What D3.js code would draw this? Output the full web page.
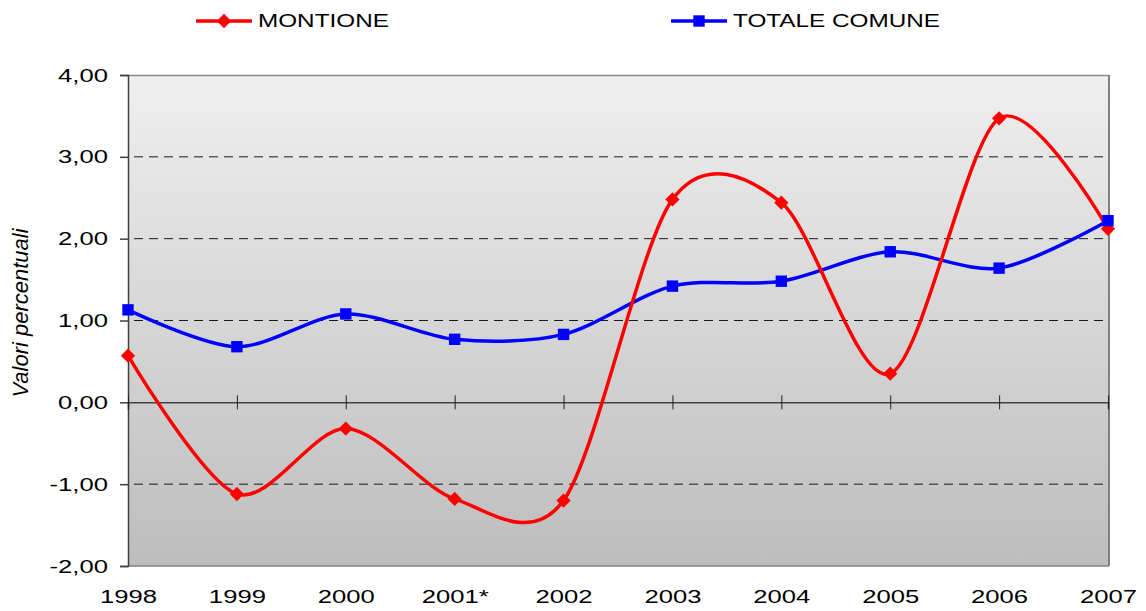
<!DOCTYPE html>
<html>
<head>
<meta charset="utf-8">
<script src="https://cdn.jsdelivr.net/npm/d3@7"></script>
<style>
  body { margin: 0; background: #ffffff; }
  svg text { font-family: "Liberation Sans", Arial, sans-serif; fill: #000; }
  .stretch { transform-box: fill-box; }
</style>
</head>
<body>
<svg id="chart" width="1146" height="611"></svg>
<script>
// Categories and series values
const years = ['1998', '1999', '2000', '2001*', '2002', '2003', '2004', '2005', '2006', '2007'];
const montione = [0.57, -1.12, -0.32, -1.18, -1.2, 2.48, 2.44, 0.35, 3.47, 2.12];
const totaleComune = [1.13, 0.68, 1.08, 0.77, 0.83, 1.42, 1.48, 1.84, 1.64, 2.22];
const yTicks = [-2, -1, 0, 1, 2, 3, 4];
const seriesNames = ['MONTIONE', 'TOTALE COMUNE'];

const svg = d3.select('#chart');
const margin = { top: 75, right: 37, bottom: 45, left: 128 };
const width = 1146 - margin.left - margin.right;
const height = 611 - margin.top - margin.bottom;
const stretchX = 1.35; // the picture's text is wider than it is tall

const x = d3.scalePoint().domain(years).range([0, width - 1]);
const y = d3.scaleLinear().domain([-2, 4]).range([height, 0]);

// italian number format with a plain hyphen for negatives
const fmt = d => (d < 0 ? '-' : '') + Math.abs(d).toFixed(2).replace('.', ',');

const defs = svg.append('defs');
const grad = defs.append('linearGradient')
  .attr('id', 'bg').attr('x1', 0).attr('y1', 0).attr('x2', 0).attr('y2', 1);
grad.append('stop').attr('offset', '0%').attr('stop-color', '#efefef');
grad.append('stop').attr('offset', '100%').attr('stop-color', '#bdbdbd');

const g = svg.append('g').attr('transform', `translate(${margin.left},${margin.top})`);

// plot background
g.append('rect')
  .attr('width', width).attr('height', height)
  .attr('fill', 'url(#bg)');

// dashed gridlines
g.append('g').selectAll('line')
  .data(yTicks.filter(d => d !== 0 && d !== -2 && d !== 4))
  .join('line')
  .attr('x1', 6).attr('x2', width)
  .attr('y1', d => y(d)).attr('y2', d => y(d))
  .attr('stroke', '#1a1a1a').attr('stroke-width', 1)
  .attr('stroke-dasharray', '9,6');

// border lines top / right / bottom
g.append('line').attr('x1', 0).attr('x2', width).attr('y1', 0.5).attr('y2', 0.5)
  .attr('stroke', '#8a8a8a').attr('stroke-width', 1.5);
g.append('line').attr('x1', width).attr('x2', width).attr('y1', 0).attr('y2', height)
  .attr('stroke', '#808080').attr('stroke-width', 2);
g.append('line').attr('x1', 0).attr('x2', width).attr('y1', height).attr('y2', height)
  .attr('stroke', '#808080').attr('stroke-width', 1.5);

// y axis
const yAxisGroup = g.append('g')
  .call(d3.axisLeft(y).tickValues(yTicks).tickSize(8).tickPadding(12).tickFormat(fmt));
yAxisGroup.select('.domain').attr('stroke', '#404040').attr('stroke-width', 1.5);
yAxisGroup.selectAll('.tick line').attr('stroke', '#404040').attr('stroke-width', 1.5);
yAxisGroup.selectAll('.tick text')
  .attr('font-size', 19)
  .attr('class', 'stretch')
  .style('transform-origin', 'right center')
  .style('transform', `scaleX(${stretchX})`);

// zero line with crossing ticks
const zeroGroup = g.append('g').attr('transform', `translate(0,${y(0)})`)
  .call(d3.axisBottom(x).tickSize(7).tickFormat(''));
zeroGroup.select('.domain').attr('stroke', '#404040').attr('stroke-width', 1.5);
zeroGroup.selectAll('.tick line')
  .attr('y1', -7).attr('y2', 7)
  .attr('stroke', '#202020').attr('stroke-width', 1);

// x labels at the bottom
const xAxisGroup = g.append('g').attr('transform', `translate(0,${height})`)
  .call(d3.axisBottom(x).tickSize(0).tickPadding(24));
xAxisGroup.select('.domain').remove();
xAxisGroup.selectAll('.tick text')
  .attr('font-size', 19)
  .attr('class', 'stretch')
  .style('transform-origin', 'center')
  .style('transform', `scaleX(${stretchX})`);

// y axis title
svg.append('text')
  .attr('transform', `translate(28,313) rotate(-90)`)
  .attr('text-anchor', 'middle')
  .attr('font-size', 22)
  .attr('font-style', 'italic')
  .text('Valori percentuali');

// lines
const line = d3.line()
  .x((d, i) => x(years[i]))
  .y(d => y(d))
  .curve(d3.curveCardinal.tension(0.1));

const colors = ['#ff0000', '#0000ff'];

g.append('path').datum(totaleComune)
  .attr('d', line).attr('fill', 'none')
  .attr('stroke', colors[1]).attr('stroke-width', 3.5);
g.append('path').datum(montione)
  .attr('d', line).attr('fill', 'none')
  .attr('stroke', colors[0]).attr('stroke-width', 3.5);

const diamond = d3.symbol().type(d3.symbolDiamond2).size(130);
const square = d3.symbol().type(d3.symbolSquare).size(130);

g.append('g').selectAll('path')
  .data(montione).join('path')
  .attr('transform', (d, i) => `translate(${x(years[i])},${y(d)})`)
  .attr('d', diamond)
  .attr('fill', colors[0]);

g.append('g').selectAll('path')
  .data(totaleComune).join('path')
  .attr('transform', (d, i) => `translate(${x(years[i])},${y(d)})`)
  .attr('d', square)
  .attr('fill', colors[1]);

// legend
const legendX = [196, 671];
const legend = svg.append('g').selectAll('g')
  .data(seriesNames).join('g')
  .attr('transform', (d, i) => `translate(${legendX[i]},21)`);
legend.append('line')
  .attr('x1', 0).attr('x2', 56).attr('y1', 0).attr('y2', 0)
  .attr('stroke', (d, i) => colors[i]).attr('stroke-width', 3.5);
legend.append('path')
  .attr('transform', 'translate(28,0)')
  .attr('d', (d, i) => (i === 0 ? diamond : square)())
  .attr('fill', (d, i) => colors[i]);
legend.append('text')
  .attr('x', 62).attr('dy', '0.36em')
  .attr('font-size', 18)
  .attr('class', 'stretch')
  .style('transform-origin', 'left center')
  .style('transform', `scaleX(${stretchX})`)
  .text(d => d);
</script>
</body>
</html>
